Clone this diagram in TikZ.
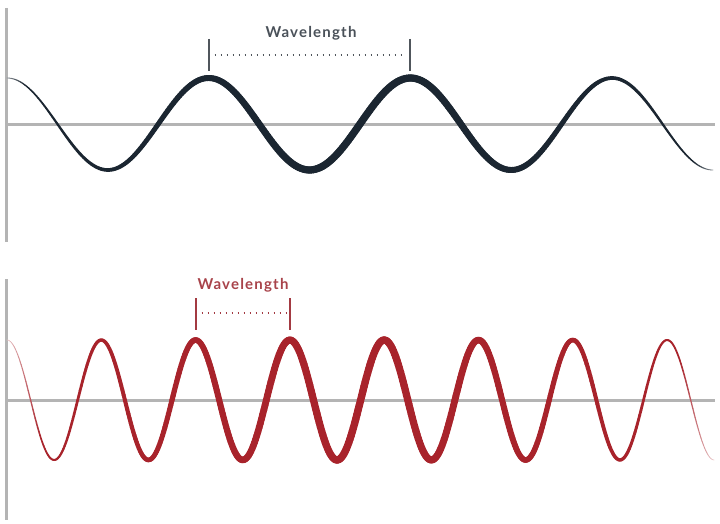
\documentclass[tikz,border=0pt]{standalone}
\usepackage{fontspec}
\setmainfont{Lato}
\newfontfamily\lblfont[LetterSpace=8]{Lato Bold}
\definecolor{navy}{HTML}{1B2631}
\definecolor{wred}{HTML}{A8232B}
\definecolor{axisgray}{HTML}{B4B4B4}
\definecolor{lblgray}{HTML}{4A5159}
\definecolor{tickgray}{HTML}{50565C}
\definecolor{lblred}{HTML}{A8434A}
\definecolor{tickred}{HTML}{A33A42}
\begin{document}
\begin{tikzpicture}[x=1pt,y=-1pt,
  axisline/.style={axisgray,line width=3pt},
  ticklen/.style={line width=2pt},
  dotline/.style={line width=1.6pt,dash pattern=on 1.6pt off 4.4pt},
  lbl/.style={font=\lblfont\fontsize{15}{17}\selectfont,inner sep=0pt}]
\useasboundingbox (0,0) rectangle (720,524);
% ---------- top panel ----------
\coordinate (va1) at (6,8);
\coordinate (vb1) at (6,242);
\coordinate (ha1) at (6,125);
\coordinate (hb1) at (715,125);
\draw[axisline] (va1) -- (vb1);
\draw[axisline] (ha1) -- (hb1);
\foreach \i in {0,...,359}{
  \pgfmathsetmacro\xa{7+\i*(706/360)}
  \pgfmathsetmacro\xb{7+(\i+1)*(706/360)}
  \pgfmathsetmacro\ya{124-46*cos((\xa-7)/201.7*360)}
  \pgfmathsetmacro\yb{124-46*cos((\xb-7)/201.7*360)}
  \pgfmathsetmacro\s{sin((\i+0.5)/360*180)}
  \pgfmathsetmacro\w{0.8+6.6*\s}
  \pgfmathtruncatemacro\c{min(100,50+600*\s)}
  \draw[line width=\w pt,navy!\c!white,line cap=round] (\xa,\ya) -- (\xb,\yb);
}
\coordinate (t1a) at (208.7,39);
\coordinate (t1b) at (208.7,71);
\coordinate (t1m) at (208.7,55);
\coordinate (t2a) at (410.4,39);
\coordinate (t2b) at (410.4,71);
\coordinate (t2m) at (410.4,55);
\draw[ticklen,tickgray] (t1a) -- (t1b);
\draw[ticklen,tickgray] (t2a) -- (t2b);
\draw[dotline,tickgray] ([xshift=6pt]t1m) -- ([xshift=-4pt]t2m);
\node[lbl,text=lblgray] (L1) at (311,33) {Wavelength};
% ---------- bottom panel ----------
\coordinate (va2) at (6,279);
\coordinate (vb2) at (6,520);
\coordinate (ha2) at (6,400);
\coordinate (hb2) at (715,400);
\draw[axisline] (va2) -- (vb2);
\draw[axisline] (ha2) -- (hb2);
\foreach \i in {0,...,599}{
  \pgfmathsetmacro\xa{7+\i*(707/600)}
  \pgfmathsetmacro\xb{7+(\i+1)*(707/600)}
  \pgfmathsetmacro\ya{400-60*cos((\xa-7)/94.3*360)}
  \pgfmathsetmacro\yb{400-60*cos((\xb-7)/94.3*360)}
  \pgfmathsetmacro\s{sin((\i+0.5)/600*180)}
  \pgfmathsetmacro\w{0.6+6.8*\s}
  \pgfmathtruncatemacro\c{min(100,25+500*\s)}
  \draw[line width=\w pt,wred!\c!white,line cap=round] (\xa,\ya) -- (\xb,\yb);
}
\coordinate (t3a) at (195.6,298);
\coordinate (t3b) at (195.6,330);
\coordinate (t3m) at (195.6,313);
\coordinate (t4a) at (289.9,298);
\coordinate (t4b) at (289.9,330);
\coordinate (t4m) at (289.9,313);
\draw[ticklen,tickred] (t3a) -- (t3b);
\draw[ticklen,tickred] (t4a) -- (t4b);
\draw[dotline,tickred] ([xshift=6pt]t3m) -- ([xshift=-4pt]t4m);
\node[lbl,text=lblred] (L2) at (243,285) {Wavelength};
\end{tikzpicture}
\end{document}
